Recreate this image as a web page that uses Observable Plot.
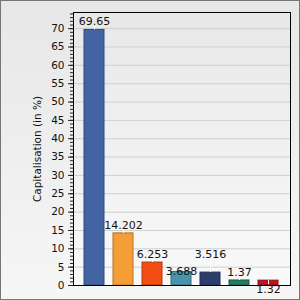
<!DOCTYPE html>
<html><head><meta charset="utf-8">
<script src="https://cdn.jsdelivr.net/npm/d3@7"></script>
<script src="https://cdn.jsdelivr.net/npm/@observablehq/plot@0.6"></script>
<style>
html,body{margin:0;padding:0;}
#chart{width:300px;height:300px;box-sizing:border-box;border:1px solid #767676;
background:linear-gradient(#e7e7e7,#f6f6f6);overflow:hidden;}
#chart svg{display:block;}
</style></head>
<body><div id="chart"></div>
<script>
const categories = ["1","2","3","4","5","6","7"];
const values = [69.65, 14.202, 6.253, 3.688, 3.516, 1.37, 1.32];
const valueLabels = ["69.65","14.202","6.253","3.688","3.516","1.37","1.32"];
const colors = ["#4463a2","#f59e38","#f24e14","#4a93aa","#2d3e6d","#1f7c5f","#c0141e"];
const yTicks = [0,5,10,15,20,25,30,35,40,45,50,55,60,65,70];
const yMinorTicks = d3.range(0, 75, 1);
const yTitle = "Capitalisation (in %)";
// label placement mode per bar: above, high, inside, below (collision avoidance of the original)
const labelMode = ["above","above","above","inside","high","above","below"];

const data = categories.map((c,i)=>({cat:c, value:values[i], label:valueLabels[i], color:colors[i], mode:labelMode[i]}));
const W = 298, H = 298, mT = 11, mB = 14, yMax = 74.4;
const pxPerUnit = (H - mT - mB) / yMax;
const dyFor = {above:-8, high:-18, inside:0, below:9};
const leader = data.filter(d=>d.mode!=="inside").map(d=>{
  const off = dyFor[d.mode]; const len = Math.abs(off) - 5;
  return {cat:d.cat, y1:d.value, y2:d.value - Math.sign(off)*len/pxPerUnit};
});

const marks = [
  Plot.frame({fill:"url(#plotGrad)", stroke:null}),
  Plot.gridY(yTicks, {stroke:"#cfcfcf", strokeOpacity:1}),
  Plot.axisY(yMinorTicks, {tickSize:3, tickFormat:()=>"", label:null, stroke:"#222"}),
  Plot.axisY(yTicks, {tickSize:5, tickPadding:4, fontSize:10.5, fill:"#111", stroke:"#222",
    label:yTitle, labelAnchor:"center", labelArrow:"none", labelOffset:40}),
  Plot.barY(data, {x:"cat", y:"value", fill:"color", stroke:d=>d3.color(d.color).darker(0.9).formatHex(), strokeWidth:1}),
  Plot.ruleX(leader, {x:"cat", y1:"y1", y2:"y2", stroke:"white", strokeWidth:1}),
  Plot.frame({stroke:"black", strokeWidth:1})
];
for (const m of Object.keys(dyFor)) {
  marks.push(Plot.text(data.filter(d=>d.mode===m), {x:"cat", y:"value", text:"label", dy:dyFor[m], fontSize:11, fill:"#111"}));
}

const plot = Plot.plot({
  width: W, height: H,
  marginLeft: 72, marginTop: mT, marginRight: 9, marginBottom: mB,
  style: {background:"transparent", fontFamily:"'DejaVu Sans', Verdana, sans-serif", fontSize:"11px", color:"#111"},
  x: {domain: categories, axis: null, paddingInner: 0.3, paddingOuter: 0.3},
  y: {domain: [0, yMax], axis: null},
  marks
});
const svg = d3.select(plot);
const defs = svg.insert("defs", ":first-child");
const g = defs.append("linearGradient").attr("id","plotGrad").attr("x1",0).attr("y1",0).attr("x2",0).attr("y2",1);
g.append("stop").attr("offset","0%").attr("stop-color","#e8e8e8");
g.append("stop").attr("offset","100%").attr("stop-color","#f9f9f9");
document.getElementById("chart").appendChild(plot);
</script></body></html>
